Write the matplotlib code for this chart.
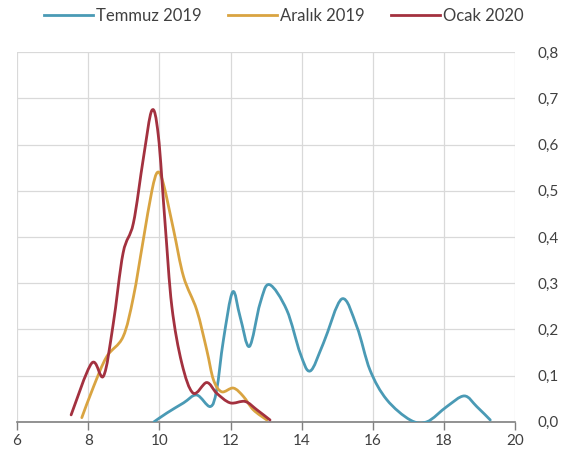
import numpy as np
import matplotlib
matplotlib.use("Agg")
import matplotlib.pyplot as plt
from matplotlib.path import Path
from matplotlib.patches import PathPatch
from matplotlib.lines import Line2D
from matplotlib.ticker import FuncFormatter

# values
temmuz_x = [9.85, 10.21, 10.68, 11.05, 11.43, 11.61, 11.80, 12.06, 12.27, 12.53, 12.83, 13.09,
            13.58, 13.96, 14.24, 14.61, 15.13, 15.55, 15.92, 16.39, 17.05, 17.52, 18.08, 18.57,
            18.92, 19.30]
temmuz_y = [0.0, 0.019, 0.041, 0.058, 0.033, 0.069, 0.177, 0.281, 0.227, 0.163, 0.256, 0.297,
            0.242, 0.148, 0.110, 0.170, 0.266, 0.206, 0.112, 0.048, 0.004, 0.0, 0.033, 0.056,
            0.033, 0.004]

aralik_x = [7.82, 8.15, 8.52, 8.98, 9.27, 9.54, 9.79, 9.95, 10.11, 10.40, 10.68, 11.05, 11.33,
            11.52, 11.75, 12.08, 12.36, 12.64, 13.02]
aralik_y = [0.009, 0.076, 0.141, 0.184, 0.27, 0.39, 0.50, 0.54, 0.516, 0.415, 0.314, 0.242,
            0.156, 0.091, 0.065, 0.073, 0.055, 0.026, 0.004]

ocak_x = [7.52, 8.10, 8.43, 8.70, 8.98, 9.27, 9.55, 9.79, 9.97, 10.16, 10.35, 10.63, 10.95,
          11.33, 11.61, 11.99, 12.41, 12.74, 13.11]
ocak_y = [0.015, 0.127, 0.099, 0.21, 0.365, 0.43, 0.57, 0.674, 0.62, 0.43, 0.25, 0.127, 0.062,
          0.085, 0.062, 0.041, 0.044, 0.026, 0.004]

labels = ["Temmuz 2019", "Aralık 2019", "Ocak 2020"]
colors = ["#4A9AB5", "#D9A441", "#A3313F"]


def smooth_path(xs, ys):
    # Excel-like smoothed line: Catmull-Rom segments drawn as cubic Beziers
    p = np.column_stack([xs, ys])
    ext = np.vstack([p[0], p, p[-1]])
    verts = [p[0]]
    codes = [Path.MOVETO]
    for i in range(1, len(ext) - 2):
        c1 = ext[i] + (ext[i + 1] - ext[i - 1]) / 6.0
        c2 = ext[i + 1] - (ext[i + 2] - ext[i]) / 6.0
        verts += [c1, c2, ext[i + 1]]
        codes += [Path.CURVE4] * 3
    return Path(verts, codes)


fig = plt.figure(figsize=(5.68, 4.57), dpi=100)
ax = fig.add_axes([0.030, 0.077, 0.877, 0.809])

series = [(temmuz_x, temmuz_y), (aralik_x, aralik_y), (ocak_x, ocak_y)]
for (xs, ys), c in zip(series, colors):
    ax.add_patch(PathPatch(smooth_path(xs, ys), fill=False, edgecolor=c, lw=2.0,
                           capstyle="round", joinstyle="round", zorder=3))

ax.set_xlim(6, 20)
ax.set_ylim(0, 0.8)
ax.set_xticks(np.arange(6, 21, 2))
ax.set_yticks(np.arange(0, 0.81, 0.1))
ax.yaxis.tick_right()
ax.yaxis.set_major_formatter(FuncFormatter(lambda v, p: f"{v:.1f}".replace(".", ",")))
ax.grid(True, color="#D9D9D9", lw=0.9)
ax.set_axisbelow(True)
for s in ["top", "left", "right"]:
    ax.spines[s].set_visible(False)
ax.spines["bottom"].set_color("#7F7F7F")
ax.spines["bottom"].set_linewidth(1.2)
ax.tick_params(axis="x", direction="out", length=6, color="#7F7F7F", width=1.0,
               labelsize=11, labelcolor="#404040", pad=3)
ax.tick_params(axis="y", length=0, labelsize=11, labelcolor="#404040", pad=16)
for t in ax.get_xticklabels() + ax.get_yticklabels():
    t.set_fontfamily("Lato")

handles = [Line2D([], [], color=c, lw=2.0) for c in colors]
fig.legend(handles, labels, loc="center", bbox_to_anchor=(0.50, 0.965), ncol=3,
           frameon=False, handlelength=2.9, handletextpad=0.2, columnspacing=1.6,
           prop={"family": "Lato", "size": 12}, labelcolor="#404040")

fig.savefig("out.png", dpi=100)
